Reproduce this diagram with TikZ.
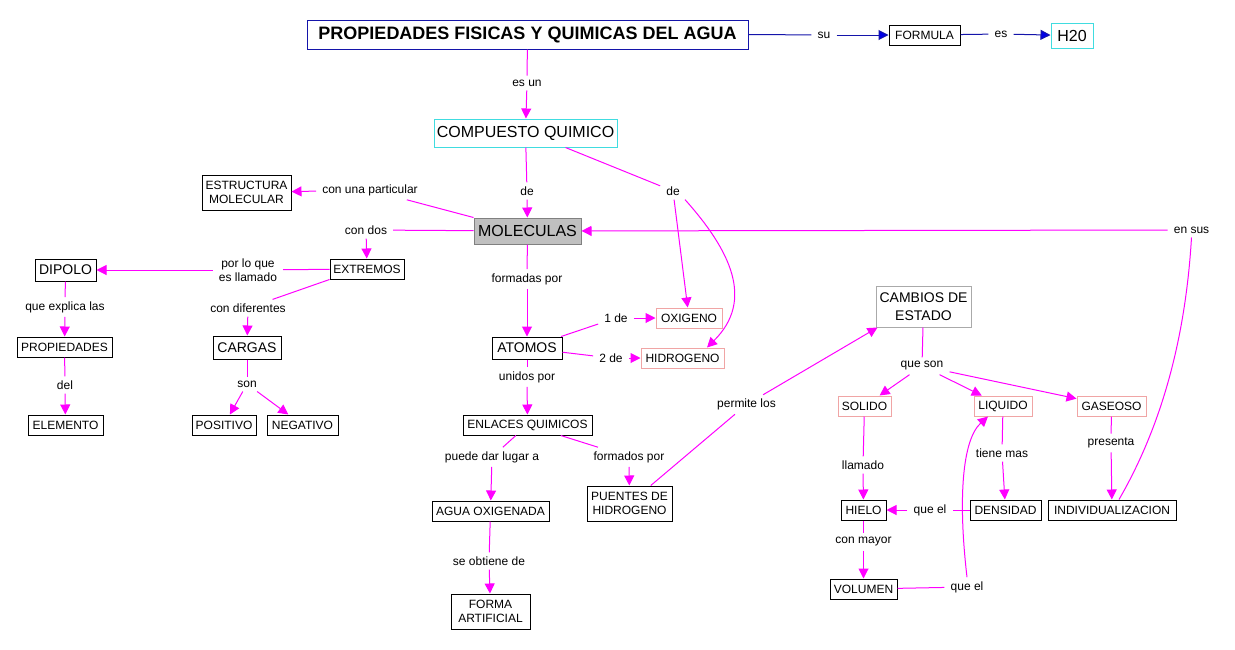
\documentclass[tikz,border=0pt]{standalone}
\usepackage{fontspec}
\setmainfont{Liberation Sans}
\usetikzlibrary{arrows.meta}
\definecolor{mag}{RGB}{255,0,255}
\definecolor{tblue}{RGB}{20,20,170}
\definecolor{abl}{RGB}{0,0,230}
\definecolor{cyanb}{RGB}{64,220,224}
\definecolor{pinkb}{RGB}{240,165,165}
\definecolor{grayb}{RGB}{170,170,170}
\definecolor{molfill}{RGB}{192,192,192}
\definecolor{molb}{RGB}{128,128,128}
\begin{document}
\begin{tikzpicture}[x=1pt,y=-1pt,
  bx/.style={draw=black, line width=1pt, inner sep=1pt, font=\fontsize{12}{14}\selectfont, align=center},
  bxc/.style={bx, draw=cyanb, font=\fontsize{16}{18}\selectfont},
  bxp/.style={bx, draw=pinkb},
  lb/.style={inner xsep=6pt, inner ysep=4pt, font=\fontsize{12}{14}\selectfont, align=center},
  ln/.style={draw=mag, line width=1pt},
  ar/.style={ln, -{Triangle[length=10pt,width=10pt]}},
  bln/.style={draw=tblue, line width=1pt},
  bar/.style={draw=tblue, line width=1pt, -{Triangle[length=10pt,width=10pt,fill=abl]}},
 ]
\useasboundingbox[fill=white] (0,0) rectangle (1235,649);

% ---------- boxes ----------
\node[bx, draw=tblue, font=\bfseries\fontsize{18}{20}\selectfont, minimum width=441pt, minimum height=29pt] (title) at (527.5,34.5) {PROPIEDADES FISICAS Y QUIMICAS DEL AGUA};
\node[bx, minimum width=71pt, minimum height=20pt] (formula) at (924.5,35) {FORMULA};
\node[bxc, minimum width=42pt, minimum height=25pt] (h2o) at (1072,35.5) {H20};
\node[bxc, minimum width=183pt, minimum height=28pt] (comp) at (525.5,133) {COMPUESTO QUIMICO};
\node[bx, minimum width=89pt, minimum height=35pt] (estr) at (246.5,192.5) {ESTRUCTURA\\MOLECULAR};
\node[bx, draw=molb, fill=molfill, font=\fontsize{16}{18}\selectfont, minimum width=107pt, minimum height=26pt] (molec) at (527.5,231) {MOLECULAS};
\node[bx, minimum width=74pt, minimum height=20pt] (extr) at (367,269) {EXTREMOS};
\node[bx, font=\fontsize{14}{16}\selectfont, minimum width=61pt, minimum height=22pt] (dipolo) at (65.5,270) {DIPOLO};
\node[bx, minimum width=95pt, minimum height=20pt] (prop) at (64.5,347) {PROPIEDADES};
\node[bx, minimum width=75pt, minimum height=20pt] (elem) at (65.5,425) {ELEMENTO};
\node[bx, font=\fontsize{14}{16}\selectfont, minimum width=68pt, minimum height=23pt] (cargas) at (247,347.5) {CARGAS};
\node[bx, minimum width=64pt, minimum height=20pt] (pos) at (224,425) {POSITIVO};
\node[bx, minimum width=71pt, minimum height=20pt] (neg) at (302.5,425) {NEGATIVO};
\node[bx, font=\fontsize{14}{16}\selectfont, minimum width=70pt, minimum height=22pt] (atomos) at (527,348) {ATOMOS};
\node[bxp, minimum width=66pt, minimum height=20pt] (oxi) at (689,318) {OXIGENO};
\node[bxp, minimum width=83pt, minimum height=20pt] (hidro) at (682.5,358) {HIDROGENO};
\node[bx, minimum width=129pt, minimum height=20pt] (enlaces) at (527.5,425) {ENLACES QUIMICOS};
\node[bx, minimum width=117pt, minimum height=20pt] (agua) at (490.5,511) {AGUA OXIGENADA};
\node[bx, minimum width=79pt, minimum height=35pt] (forma) at (490.5,611.5) {FORMA\\ARTIFICIAL};
\node[bx, minimum width=85pt, minimum height=35pt] (puentes) at (629.5,503.5) {PUENTES DE\\HIDROGENO};
\node[bx, draw=grayb, font=\fontsize{14}{18}\selectfont, minimum width=95pt, minimum height=41pt] (cambios) at (923.5,306.5) {CAMBIOS DE\\ESTADO};
\node[bxp, minimum width=53pt, minimum height=20pt] (sol) at (864.5,406) {SOLIDO};
\node[bxp, minimum width=58pt, minimum height=20pt] (liq) at (1003,406) {LIQUIDO};
\node[bxp, minimum width=69pt, minimum height=20pt] (gas) at (1111.5,406) {GASEOSO};
\node[bx, minimum width=45pt, minimum height=20pt] (hielo) at (863.5,510) {HIELO};
\node[bx, minimum width=71pt, minimum height=20pt] (dens) at (1005.5,510) {DENSIDAD};
\node[bx, minimum width=128pt, minimum height=20pt] (indiv) at (1112,510) {INDIVIDUALIZACION};
\node[bx, minimum width=67pt, minimum height=20pt] (vol) at (863.5,589) {VOLUMEN};

% ---------- labels ----------
\node[lb] (lsu) at (824,35) {su};
\node[lb] (les) at (1001,34) {es};
\node[lb] (lesun) at (527,83) {es un};
\node[lb] (lde1) at (527,191) {de};
\node[lb] (lde2) at (673,191) {de};
\node[lb] (lcup) at (370,190) {con una particular};
\node[lb] (lcdos) at (366,230) {con dos};
\node[lb] (lplq) at (248,270) {por lo que\\es llamado};
\node[lb] (lcdif) at (248,308) {con diferentes};
\node[lb] (lqexp) at (65,307) {que explica las};
\node[lb] (ldel) at (65,385) {del};
\node[lb] (lson) at (247,384) {son};
\node[lb] (lfpor) at (527,279) {formadas por};
\node[lb] (l1de) at (616,318) {1 de};
\node[lb] (l2de) at (611,358) {2 de};
\node[lb] (lunid) at (527,377) {unidos por};
\node[lb] (lpdl) at (492,457) {puede dar lugar a};
\node[lb] (lfdos) at (629,457) {formados por};
\node[lb] (lseob) at (489,561) {se obtiene de};
\node[lb] (lperm) at (746.5,404.5) {permite los};
\node[lb] (lqson) at (922,366) {que son};
\node[lb] (lllam) at (863,465) {llamado};
\node[lb] (ltmas) at (1002,453) {tiene mas};
\node[lb] (lpres) at (1111,443) {presenta};
\node[lb] (lqel1) at (930,510) {que el};
\node[lb] (lcmay) at (863.5,542) {con mayor};
\node[lb] (lqel2) at (967,587) {que el};
\node[lb] (lensus) at (1191.5,230) {en sus};

% ---------- connectors ----------
\draw[bln] (title.east) -- (lsu);
\draw[bar] (lsu) -- (formula);
\draw[bln] (formula) -- (les);
\draw[bar] (les) -- (h2o);

\draw[ln] (title) -- (lesun);
\draw[ar] (lesun) -- (comp);

\draw[ln] (comp) -- (lde1);
\draw[ar] (lde1) -- (molec);
\draw[ln] ([xshift=40pt]comp.south) -- (lde2);
\draw[ar] (lde2) -- (oxi);
\draw[ar] ([xshift=12pt]lde2.south) .. controls (730,250) and (755,300) .. ([xshift=24.5pt]hidro.north);

\draw[ln] (molec.north west) -- (lcup);
\draw[ar] (lcup) -- (estr);
\draw[ln] (molec) -- (lcdos);
\draw[ar] (lcdos) -- (extr);

\draw[ln] (extr) -- (lplq);
\draw[ar] (lplq) -- (dipolo);
\draw[ln] (extr.south west) -- (lcdif);
\draw[ar] (lcdif) -- (cargas);

\draw[ln] (dipolo) -- (lqexp);
\draw[ar] (lqexp) -- (prop);
\draw[ln] (prop) -- (ldel);
\draw[ar] (ldel) -- (elem);

\draw[ln] (cargas) -- (lson);
\draw[ar] (lson) -- (pos);
\draw[ar] (lson) -- (neg);

\draw[ln] (molec) -- (lfpor);
\draw[ar] (lfpor) -- (atomos);
\draw[ln] (atomos) -- (l1de);
\draw[ar] (l1de) -- (oxi);
\draw[ln] (atomos) -- (l2de);
\draw[ar] (l2de) -- (hidro);
\draw[ln] (atomos) -- (lunid);
\draw[ar] (lunid) -- (enlaces);

\draw[ln] (enlaces) -- (lpdl);
\draw[ar] (lpdl) -- (agua);
\draw[ln] (enlaces) -- (lfdos);
\draw[ar] (lfdos) -- (puentes);
\draw[ln] (agua) -- (lseob);
\draw[ar] (lseob) -- (forma);

\draw[ln] (puentes) -- (lperm);
\draw[ar] (lperm) -- ([xshift=2pt]cambios.south west);

\draw[ln] (cambios) -- (lqson);
\draw[ar] (lqson) -- (sol);
\draw[ar] (lqson) -- (liq);
\draw[ar] (lqson) -- (gas);

\draw[ln] (sol) -- (lllam);
\draw[ar] (lllam) -- (hielo);
\draw[ln] (liq) -- (ltmas);
\draw[ar] (ltmas) -- (dens);
\draw[ln] (gas) -- (lpres);
\draw[ar] (lpres) -- (indiv);

\draw[ln] (dens) -- (lqel1);
\draw[ar] (lqel1) -- (hielo);
\draw[ln] (hielo) -- (lcmay);
\draw[ar] (lcmay) -- (vol);
\draw[ln] (vol) -- (lqel2);
\draw[ar] (lqel2.north) .. controls (958,500) and (962,440) .. ([xshift=-15pt]liq.south);

\draw[ln] ([xshift=7pt]indiv.north) .. controls (1165,420) and (1186,330) .. (lensus.south);
\draw[ar] (lensus) -- (molec);
\end{tikzpicture}
\end{document}
